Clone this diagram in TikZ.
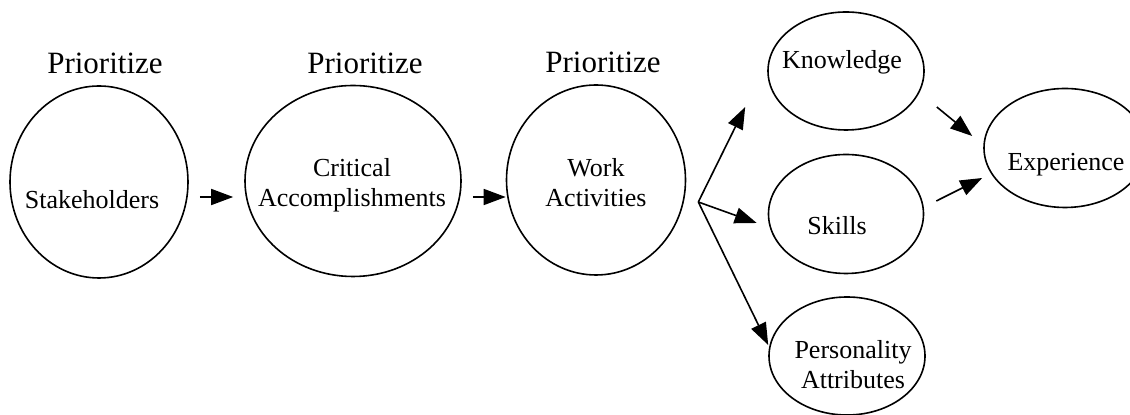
\documentclass[tikz,border=0pt]{standalone}
\usepackage{fontspec}
\setmainfont{Liberation Serif}
\usetikzlibrary{shapes.geometric,arrows.meta}
\newcommand{\prio}{\fontsize{15.5}{18}\selectfont}
\newcommand{\lbl} {\fontsize{13}{15}\selectfont}

\begin{document}
\begin{tikzpicture}[x=0.5pt,y=-0.5pt,line width=0.8pt,
   >={Triangle[length=11pt,width=8pt]},
   blob/.style={draw,ellipse,inner sep=0pt},
   word/.style={font=\lbl,align=center,inner sep=0pt}]
   \useasboundingbox (0,0) rectangle (1130,415);
   % ranked steps
   \node[blob,minimum width=89pt,minimum height=96pt]   (stake) at ( 99,182) {};
   \node[blob,minimum width=108pt,minimum height=95.5pt] (crit) at (353,181) {};
   \node[blob,minimum width=89.5pt,minimum height=95pt] (work)  at (596,180) {};
   \node[font=\prio,inner sep=0pt] (prioA) at (105,63) {Prioritize};
   \node[font=\prio,inner sep=0pt] (prioB) at (365,63) {Prioritize};
   \node[font=\prio,inner sep=0pt] (prioC) at (603,62) {Prioritize};
   \node[word] (stakeT) at ( 92,200) {Stakeholders};
   \node[word] (critT)  at (352,185) {Critical\\Accomplishments};
   \node[word] (workT)  at (596,183) {Work\\Activities};
   % requirements
   \node[blob,minimum width=78pt,minimum height=59pt]   (know)  at ( 846, 71) {};
   \node[blob,minimum width=77.5pt,minimum height=59.5pt] (skill) at ( 846,214) {};
   \node[blob,minimum width=78pt,minimum height=59pt]   (pers)  at ( 847,356) {};
   \node[blob,minimum width=81pt,minimum height=59.5pt] (expr)  at (1065,148) {};
   \node[word] (knowT)  at ( 842, 62) {Knowledge};
   \node[word] (skillT) at ( 837,226) {Skills};
   \node[word] (persT)  at ( 853,365) {Personality\\Attributes};
   \node[word] (exprT)  at (1066,165) {Experience};
   % arrows
   \draw[->,shorten <=5.5pt,shorten >=5.5pt] ([yshift=-7.5pt]stake.east) -- ([yshift=-8pt]crit.west);
   \draw[->,shorten <=5.5pt] ([yshift=-8pt]crit.east) -- ([yshift=-8.5pt]work.west);
   \coordinate (fork) at ([shift={(12,22)}]work.east);
   \draw[->] (fork) -- ([shift={(-22,36)}]know.west);
   \draw[->] (fork) -- ([shift={(-11,9)}]skill.west);
   \draw[->] (fork) -- ([shift={(0,-11)}]pers.west);
   \draw[->] ([shift={(12,36)}]know.east) -- ([shift={(-11,-12)}]expr.west);
   \draw[->] ([shift={(12,-13)}]skill.east) -- ([shift={(-1,30)}]expr.west);
\end{tikzpicture}
\end{document}
